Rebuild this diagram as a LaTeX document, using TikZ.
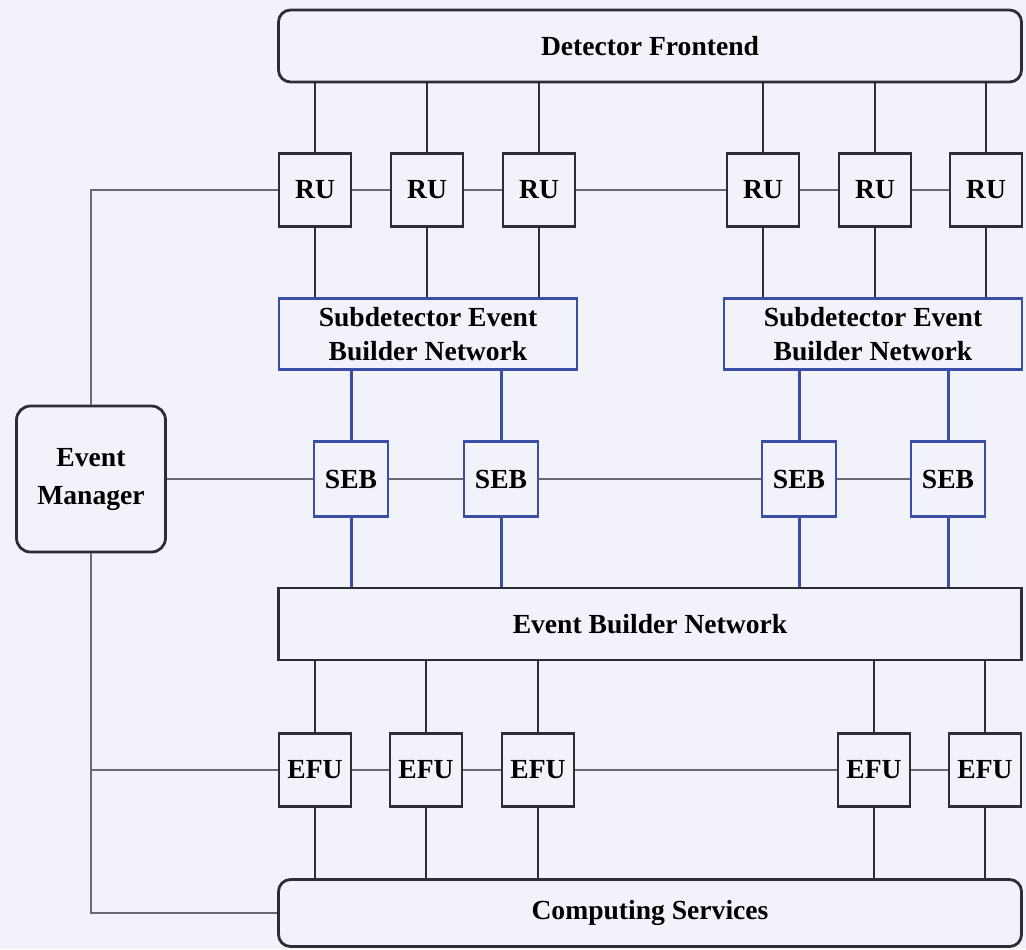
\documentclass[tikz,border=0pt]{standalone}
\usepackage{fontspec}
\setmainfont{Liberation Serif}
\usepackage{tikz}
\definecolor{bgcol}{RGB}{242,242,251}
\definecolor{linecol}{RGB}{45,45,52}
\definecolor{ctrlcol}{RGB}{105,105,115}
\definecolor{sebblue}{RGB}{58,78,165}
\tikzset{
  box/.style       = {draw=linecol, line width=1.4pt, fill=bgcol, inner sep=0pt,
                      align=center, font=\fontsize{13.8}{17}\selectfont\bfseries},
  unitbox/.style   = {box, minimum width=36pt, minimum height=36.5pt},
  sebbox/.style    = {unitbox, draw=sebblue, minimum width=37pt, minimum height=37.5pt},
  netbox/.style    = {box, minimum width=371.5pt, minimum height=36pt},
  subnetbox/.style = {box, draw=sebblue, minimum width=149pt, minimum height=35.5pt},
  roundbox/.style  = {rounded corners=6pt},
  link/.style      = {draw=linecol, line width=1.4pt},
  bluelink/.style  = {draw=sebblue, line width=1.5pt},
  ctrl/.style      = {draw=ctrlcol, line width=1pt}
}

\begin{document}
\begin{tikzpicture}[x=0.5pt, y=-0.5pt]
	\fill[bgcol] (0,0) rectangle (1026,949);
	\useasboundingbox (0,0) rectangle (1026,949);
	% networks and services
	\node[netbox, roundbox] (df) at (650,46) {Detector Frontend};
	\node[netbox] (ebn) at (650,624) {Event Builder Network};
	\node[netbox, roundbox, minimum height=33.5pt] (cs) at (650,913) {Computing Services};
	\node[subnetbox] (sdb1) at (428,334) {Subdetector Event\\Builder Network};
	\node[subnetbox] (sdb2) at (873,334) {Subdetector Event\\Builder Network};
	\node[box, roundbox, rounded corners=7pt, minimum width=74.5pt, minimum height=73pt] (em) at (91,479) {Event\\[2pt]Manager};
	% readout units
	\node[unitbox] (ru1) at (315,190) {RU};
	\node[unitbox] (ru2) at (427,190) {RU};
	\node[unitbox] (ru3) at (539,190) {RU};
	\node[unitbox] (ru4) at (763,190) {RU};
	\node[unitbox] (ru5) at (875,190) {RU};
	\node[unitbox] (ru6) at (986,190) {RU};
	% subdetector event builders
	\node[sebbox] (seb1) at (351,479) {SEB};
	\node[sebbox] (seb2) at (501,479) {SEB};
	\node[sebbox] (seb3) at (799,479) {SEB};
	\node[sebbox] (seb4) at (948,479) {SEB};
	% event filter units
	\node[unitbox] (efu1) at (315,770) {EFU};
	\node[unitbox] (efu2) at (426,770) {EFU};
	\node[unitbox] (efu3) at (538,770) {EFU};
	\node[unitbox] (efu4) at (874,770) {EFU};
	\node[unitbox] (efu5) at (985,770) {EFU};
	% data links
	\draw[link] (ru1) -- (ru1 |- df.south);
	\draw[link] (ru2) -- (ru2 |- df.south);
	\draw[link] (ru3) -- (ru3 |- df.south);
	\draw[link] (ru4) -- (ru4 |- df.south);
	\draw[link] (ru5) -- (ru5 |- df.south);
	\draw[link] (ru6) -- (ru6 |- df.south);
	\draw[link] (ru1) -- (ru1 |- sdb1.north);
	\draw[link] (ru2) -- (ru2 |- sdb1.north);
	\draw[link] (ru3) -- (ru3 |- sdb1.north);
	\draw[link] (ru4) -- (ru4 |- sdb2.north);
	\draw[link] (ru5) -- (ru5 |- sdb2.north);
	\draw[link] (ru6) -- (ru6 |- sdb2.north);
	\draw[bluelink] (seb1) -- (seb1 |- sdb1.south);
	\draw[bluelink] (seb2) -- (seb2 |- sdb1.south);
	\draw[bluelink] (seb3) -- (seb3 |- sdb2.south);
	\draw[bluelink] (seb4) -- (seb4 |- sdb2.south);
	\draw[bluelink] (seb1) -- (seb1 |- ebn.north);
	\draw[bluelink] (seb2) -- (seb2 |- ebn.north);
	\draw[bluelink] (seb3) -- (seb3 |- ebn.north);
	\draw[bluelink] (seb4) -- (seb4 |- ebn.north);
	\draw[link] (efu1) -- (efu1 |- ebn.south);
	\draw[link] (efu2) -- (efu2 |- ebn.south);
	\draw[link] (efu3) -- (efu3 |- ebn.south);
	\draw[link] (efu4) -- (efu4 |- ebn.south);
	\draw[link] (efu5) -- (efu5 |- ebn.south);
	\draw[link] (efu1) -- (efu1 |- cs.north);
	\draw[link] (efu2) -- (efu2 |- cs.north);
	\draw[link] (efu3) -- (efu3 |- cs.north);
	\draw[link] (efu4) -- (efu4 |- cs.north);
	\draw[link] (efu5) -- (efu5 |- cs.north);
	% control links
	\draw[ctrl] (ru1.west) -| (em.north);
	\draw[ctrl] (ru1) -- (ru2);
	\draw[ctrl] (ru2) -- (ru3);
	\draw[ctrl] (ru3) -- (ru4);
	\draw[ctrl] (ru4) -- (ru5);
	\draw[ctrl] (ru5) -- (ru6);
	\draw[ctrl] (em) -- (seb1);
	\draw[ctrl] (seb1) -- (seb2);
	\draw[ctrl] (seb2) -- (seb3);
	\draw[ctrl] (seb3) -- (seb4);
	\draw[ctrl] (em.south) |- (cs.west);
	\draw[ctrl] (em.south |- efu1.west) -- (efu1.west);
	\draw[ctrl] (efu1) -- (efu2);
	\draw[ctrl] (efu2) -- (efu3);
	\draw[ctrl] (efu3) -- (efu4);
	\draw[ctrl] (efu4) -- (efu5);
\end{tikzpicture}
\end{document}
